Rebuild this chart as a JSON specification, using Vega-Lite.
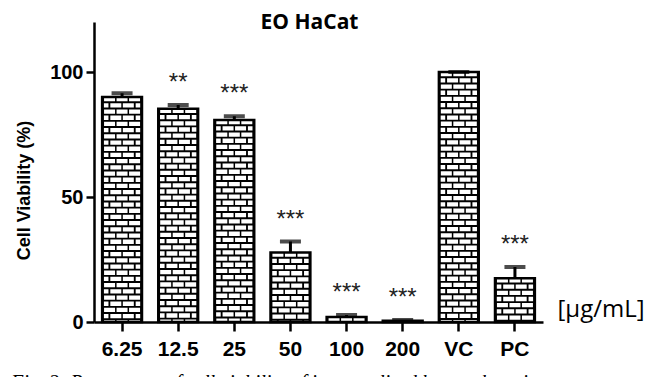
{
  "$schema": "https://vega.github.io/schema/vega-lite/v6.json",
  "width": 449,
  "height": 300,
  "autosize": "none",
  "padding": {"left": 94, "top": 22, "right": 103, "bottom": 55},
  "background": "white",
  "config": {"view": {"stroke": null}, "font": "Liberation Sans"},
  "title": {
    "text": "Fig. 2: Percentage of cell viability of immortalized human keratinocytes",
    "orient": "bottom",
    "anchor": "start",
    "frame": "bounds",
    "font": "Liberation Serif",
    "fontStyle": "italic",
    "fontWeight": "normal",
    "fontSize": 20,
    "color": "black",
    "offset": 14,
    "dx": -4
  },
  "data": {
    "values": [
      {"conc": "6.25", "viability": 90.0, "upper": 91.5, "sig": ""},
      {"conc": "12.5", "viability": 85.3, "upper": 86.8, "sig": "**"},
      {"conc": "25", "viability": 80.8, "upper": 82.3, "sig": "***"},
      {"conc": "50", "viability": 27.8, "upper": 32.2, "sig": "***"},
      {"conc": "100", "viability": 2.0, "upper": 2.8, "sig": "***"},
      {"conc": "200", "viability": 0.5, "upper": 0.8, "sig": "***"},
      {"conc": "VC", "viability": 100.0, "upper": 100.0, "sig": ""},
      {"conc": "PC", "viability": 17.5, "upper": 22.0, "sig": "***"}
    ]
  },
  "resolve": {"axis": {"x": "independent"}},
  "layer": [
    {
      "encoding": {
        "x": {
          "field": "conc",
          "type": "ordinal",
          "sort": null,
          "scale": {"paddingInner": 0.29, "paddingOuter": 0.145},
          "axis": {
            "title": "[μg/mL]",
            "titleFont": "Open Sans",
            "titleFontSize": 24,
            "titleFontWeight": "normal",
            "titleColor": "black",
            "titleX": 463,
            "titleY": -6,
            "titleAlign": "left",
            "titleAnchor": null,
            "titleBaseline": "alphabetic",
            "labelAngle": 0,
            "labelFont": "Liberation Sans",
            "labelFontWeight": "bold",
            "labelFontSize": 21,
            "labelColor": "black",
            "labelPadding": 7,
            "domainColor": "black",
            "domainWidth": 2.5,
            "tickColor": "black",
            "tickWidth": 2.5,
            "tickSize": 9
          }
        },
        "y": {
          "field": "viability",
          "type": "quantitative",
          "scale": {"domain": [0, 120], "nice": false},
          "axis": {
            "title": "Cell Viability (%)",
            "values": [0, 50, 100],
            "grid": false,
            "titleFont": "Liberation Sans",
            "titleFontSize": 18,
            "titleFontWeight": "bold",
            "titleColor": "black",
            "titleX": -70,
            "titleY": 168,
            "titleAngle": -90,
            "titleAlign": "center",
            "titleBaseline": "middle",
            "labelFont": "Liberation Sans",
            "labelFontWeight": "bold",
            "labelFontSize": 20,
            "labelColor": "black",
            "labelPadding": 3,
            "domainColor": "black",
            "domainWidth": 2.5,
            "tickColor": "black",
            "tickWidth": 2.5,
            "tickSize": 8
          }
        }
      },
      "layer": [
        {"mark": {"type": "bar", "fill": "black"}},
        {"mark": {"type": "rule", "color": "white", "strokeWidth": 11, "xOffset": -12.5, "strokeDash": [4.3, 8.1]}, "encoding": {"y2": {"datum": 0}}},
        {"mark": {"type": "rule", "color": "white", "strokeWidth": 11, "xOffset": 0, "strokeDash": [4.3, 8.1]}, "encoding": {"y2": {"datum": 0}}},
        {"mark": {"type": "rule", "color": "white", "strokeWidth": 11, "xOffset": 12.5, "strokeDash": [4.3, 8.1]}, "encoding": {"y2": {"datum": 0}}},
        {"mark": {"type": "rule", "color": "white", "strokeWidth": 11, "xOffset": -6.25, "strokeDash": [4.3, 8.1], "strokeDashOffset": 6.2}, "encoding": {"y2": {"datum": 0}}},
        {"mark": {"type": "rule", "color": "white", "strokeWidth": 11, "xOffset": 6.25, "strokeDash": [4.3, 8.1], "strokeDashOffset": 6.2}, "encoding": {"y2": {"datum": 0}}},
        {"mark": {"type": "rule", "color": "white", "strokeWidth": 4.6, "xOffset": -15.9, "strokeDash": [4.3, 8.1], "strokeDashOffset": 6.2}, "encoding": {"y2": {"datum": 0}}},
        {"mark": {"type": "rule", "color": "white", "strokeWidth": 4.6, "xOffset": 15.9, "strokeDash": [4.3, 8.1], "strokeDashOffset": 6.2}, "encoding": {"y2": {"datum": 0}}},
        {"mark": {"type": "bar", "fillOpacity": 0, "stroke": "black", "strokeWidth": 2.5}},
        {"mark": {"type": "rule", "color": "black", "strokeWidth": 3}, "encoding": {"y2": {"field": "upper"}}},
        {"mark": {"type": "tick", "color": "black", "size": 21, "thickness": 4}, "encoding": {"y": {"field": "upper", "type": "quantitative"}}}
      ]
    },
    {
      "mark": {"type": "text", "font": "Liberation Sans", "fontSize": 24, "color": "#222222", "baseline": "middle", "dy": -22},
      "encoding": {
        "x": {
          "field": "conc",
          "type": "ordinal",
          "sort": null,
          "axis": {
            "orient": "top",
            "title": "EO HaCat",
            "labels": false,
            "ticks": false,
            "domain": false,
            "titleFont": "Open Sans",
            "titleFontSize": 21,
            "titleFontWeight": "bold",
            "titleColor": "black",
            "titleX": 215,
            "titleY": 6,
            "titleAlign": "center",
            "titleAnchor": null,
            "titleBaseline": "alphabetic"
          }
        },
        "y": {"field": "upper", "type": "quantitative"},
        "text": {"field": "sig"}
      }
    }
  ]
}
